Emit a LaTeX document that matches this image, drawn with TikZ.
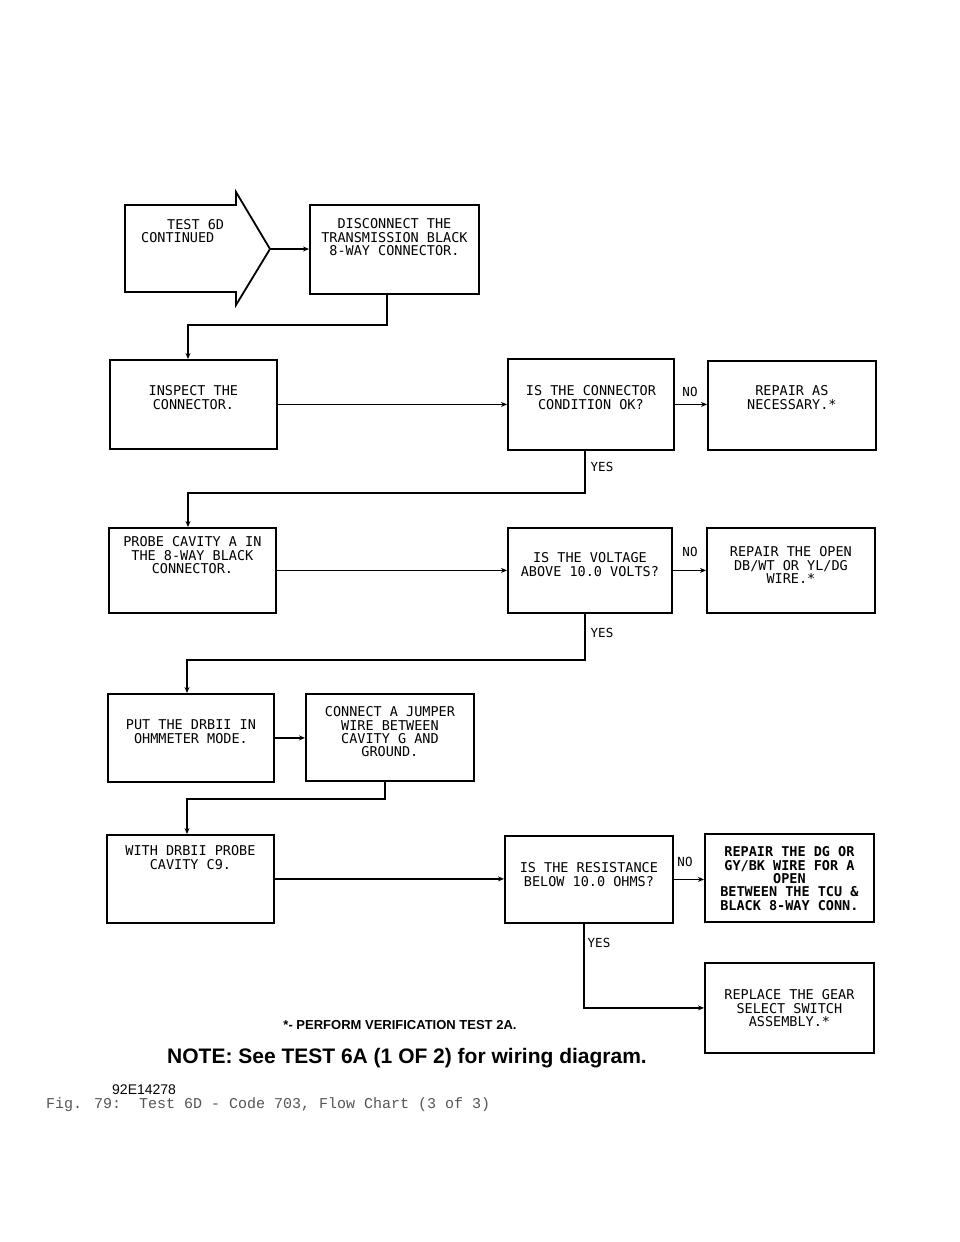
\documentclass[tikz,border=0pt]{standalone}
\usepackage{fontspec}
\setmainfont{DejaVu Sans Mono}
\newfontfamily\arialf{Liberation Sans}
\newfontfamily\courf{Liberation Mono}
\usetikzlibrary{arrows.meta}
\newcommand{\bxt}[4]{\parbox[c][#2pt][t]{#1pt}{\vspace*{#3pt}\centering #4\par}}
\begin{document}
\begin{tikzpicture}[x=1pt,y=-1pt,
  fb/.style={draw, line width=1.8pt, inner sep=0pt, anchor=north west, font=\fontsize{13.5}{13.3}\selectfont},
  conn/.style={draw, line width=1.8pt, -{Stealth[length=6pt,width=5pt]}},
  lbl/.style={font=\fontsize{12.5}{12.5}\selectfont, inner sep=0pt},
  plain/.style={inner sep=0pt}]
\fill[white] (0,0) rectangle (960,1242);
\useasboundingbox (0,0) rectangle (960,1242);

% start arrow
\draw[line width=1.8pt, line join=miter] (236,205) -- (125,205) -- (125,292) -- (236,292) -- (236,305) -- (270,249) -- (236,192) -- cycle;
\coordinate (tip) at (270,249);
\node[plain, align=left, anchor=north west, font=\fontsize{13.5}{13.3}\selectfont] (start) at (141,219) {\hspace*{26pt}TEST 6D\\CONTINUED};

\node[fb] (dis) at (309,204) {\bxt{169}{89}{14}{DISCONNECT THE\\TRANSMISSION BLACK\\8-WAY CONNECTOR.}};
\node[fb] (insp) at (109,359) {\bxt{167}{89}{26}{INSPECT THE\\CONNECTOR.}};
\node[fb] (q1) at (507,358) {\bxt{166}{91}{27}{IS THE CONNECTOR\\CONDITION OK?}};
\node[fb] (r1) at (707,360) {\bxt{168}{89}{25}{REPAIR AS\\NECESSARY.*}};
\node[fb] (probe) at (108,527) {\bxt{167}{85}{9}{PROBE CAVITY A IN\\THE 8-WAY BLACK\\CONNECTOR.}};
\node[fb] (q2) at (507,527) {\bxt{164}{85}{25}{IS THE VOLTAGE\\ABOVE 10.0 VOLTS?}};
\node[fb] (r2) at (706,527) {\bxt{168}{85}{19}{REPAIR THE OPEN\\DB/WT OR YL/DG\\WIRE.*}};
\node[fb] (put) at (107,693) {\bxt{166}{88}{26}{PUT THE DRBII IN\\OHMMETER MODE.}};
\node[fb] (jmp) at (305,693) {\bxt{168}{87}{13}{CONNECT A JUMPER\\WIRE BETWEEN\\CAVITY G AND\\GROUND.}};
\node[fb] (with) at (106,834) {\bxt{167}{88}{11}{WITH DRBII PROBE\\CAVITY C9.}};
\node[fb] (q3) at (504,835) {\bxt{168}{87}{27}{IS THE RESISTANCE\\BELOW 10.0 OHMS?}};
\node[fb, font=\bfseries\fontsize{13.5}{13.3}\selectfont] (r3) at (704,833) {\bxt{169}{88}{13}{REPAIR THE DG OR\\GY/BK WIRE FOR A\\OPEN\\BETWEEN THE TCU \&\\BLACK 8-WAY CONN.}};
\node[fb] (rep) at (704,962) {\bxt{169}{90}{27}{REPLACE THE GEAR\\SELECT SWITCH\\ASSEMBLY.*}};

% connectors
\draw[conn] (tip) -- (tip -| dis.west);
\draw[conn] (dis.south -| 387,0) -- (387,325) -| (insp.north -| 188,0);
\draw[conn] (insp.east) -- (insp.east -| q1.west);
\draw[conn] (q1.east) -- (q1.east -| r1.west);
\draw[conn] (q1.south -| 585,0) -- (585,493) -| (probe.north -| 188,0);
\draw[conn] (probe.east) -- (probe.east -| q2.west);
\draw[conn] (q2.east) -- (q2.east -| r2.west);
\draw[conn] (q2.south -| 585,0) -- (585,660) -| (put.north -| 187,0);
\draw[conn] (put.east) -- (put.east -| jmp.west);
\draw[conn] (jmp.south -| 385,0) -- (385,799) -| (with.north -| 187,0);
\draw[conn] (with.east) -- (with.east -| q3.west);
\draw[conn] (q3.east) -- (q3.east -| r3.west);
\draw[conn] (q3.south -| 584,0) |- (rep.west);

% labels
\node[lbl] (no1) at (690,392) {NO};
\node[lbl] (yes1) at (602,467) {YES};
\node[lbl] (no2) at (690,552) {NO};
\node[lbl] (yes2) at (602,633) {YES};
\node[lbl] (no3) at (685,862) {NO};
\node[lbl] (yes3) at (599,943) {YES};

% footer
\node[plain, anchor=base, font=\arialf\bfseries\fontsize{13}{13}\selectfont] (foot) at (400,1029) {*- PERFORM VERIFICATION TEST 2A.};
\node[plain, anchor=base, font=\arialf\bfseries\fontsize{21}{21}\selectfont] (note) at (407,1063) {NOTE: See TEST 6A (1 OF 2) for wiring diagram.};
\node[plain, anchor=base west, font=\arialf\fontsize{14}{14}\selectfont] (code) at (112,1094) {92E14278};
\node[plain, anchor=base west, text={rgb,255:red,85;green,85;blue,85}, font=\courf\fontsize{15}{15}\selectfont] (cap) at (46,1108) {Fig. 79:~~Test 6D - Code 703, Flow Chart (3 of 3)};
\end{tikzpicture}
\end{document}
